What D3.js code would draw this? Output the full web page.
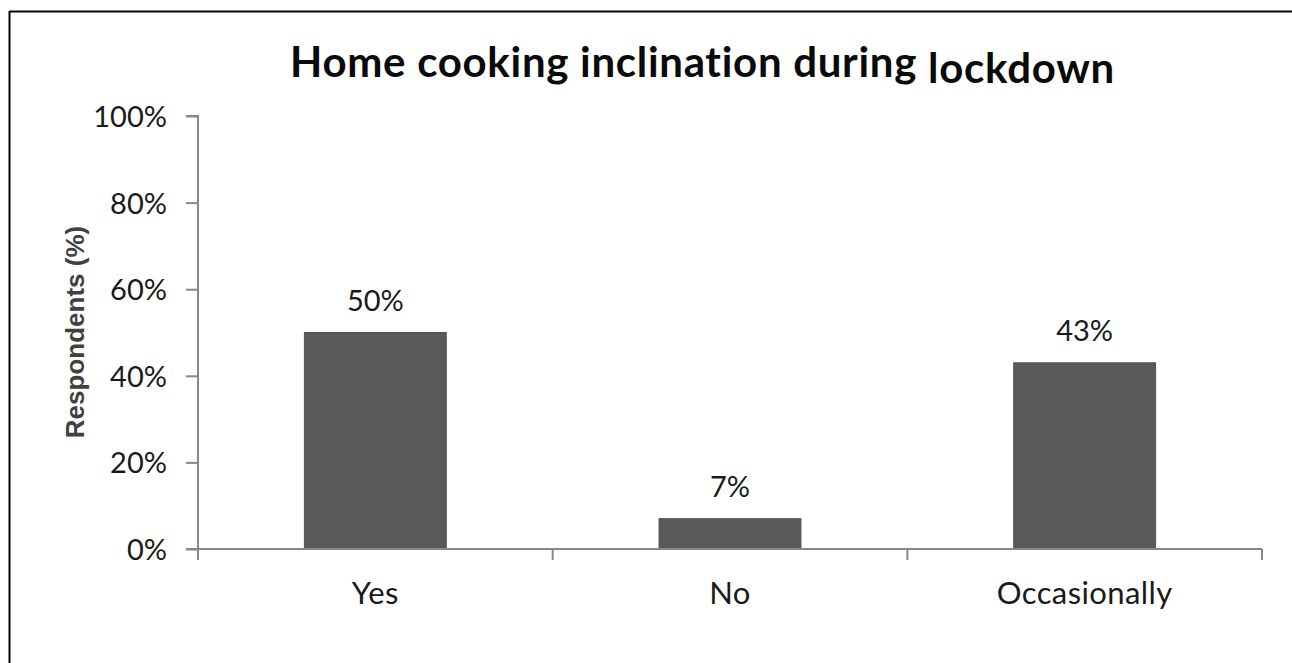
<!DOCTYPE html>
<html><head><meta charset="utf-8">
<script src="https://cdn.jsdelivr.net/npm/d3@7"></script>
<style>body{margin:0;background:#fff;}svg{display:block;}</style>
</head><body>
<svg id="c" width="1292" height="663"></svg>
<script>
const categories = ["Yes", "No", "Occasionally"];
const values = [50, 7, 43];
const valueLabels = ["50%", "7%", "43%"];
const yTicks = [0, 20, 40, 60, 80, 100];
const titleMain = "Home cooking inclination during";
const titleTail = "lockdown";
const yTitle = "Respondents (%)";

const svg = d3.select("#c");
const W = 1292, H = 663;
const m = {left: 198, right: 1262, top: 116, bottom: 549};

svg.append("rect").attr("x", 0).attr("y", 0).attr("width", W).attr("height", H).attr("fill", "#fff");
svg.append("line").attr("x1", 9.5).attr("x2", W).attr("y1", 11.5).attr("y2", 11.5).attr("stroke", "#000").attr("stroke-width", 2);
svg.append("line").attr("x1", 9.5).attr("x2", 9.5).attr("y1", 11).attr("y2", H).attr("stroke", "#000").attr("stroke-width", 2);

const x = d3.scaleBand().domain(categories).range([m.left, m.right]).paddingInner(0).paddingOuter(0);
const y = d3.scaleLinear().domain([0, 100]).range([m.bottom, m.top]);

const font = "Lato, 'Open Sans', sans-serif";
const axisColor = "#888";

const bw = x.bandwidth() * 0.4;
svg.append("g").selectAll("rect").data(values).join("rect")
  .attr("x", (d, i) => x(categories[i]) + (x.bandwidth() - bw) / 2)
  .attr("y", d => y(d))
  .attr("width", bw)
  .attr("height", d => y(0) - y(d))
  .attr("fill", "#595959")
  .attr("stroke", "#505050").attr("stroke-width", 1);

const yAxis = d3.axisLeft(y).tickValues(yTicks).tickSize(12).tickPadding(19).tickFormat(d => d + "%");
const gy = svg.append("g").attr("transform", `translate(${m.left},0)`).call(yAxis);
gy.select(".domain").attr("stroke", axisColor).attr("stroke-width", 2).attr("d", `M-12,${m.top}H0V${m.bottom}`);
gy.selectAll(".tick line").attr("stroke", axisColor).attr("stroke-width", 2);
gy.selectAll(".tick text").attr("fill", "#1a1a1a").attr("dy", "0.36em").style("font-family", font).style("font-size", "29px");

const gx = svg.append("g").attr("transform", `translate(0,${m.bottom})`);
gx.append("line").attr("x1", m.left - 12).attr("x2", m.right).attr("y1", 0).attr("y2", 0).attr("stroke", axisColor).attr("stroke-width", 2);
const bounds = [...categories.map(c => x(c)), m.right];
gx.selectAll(".bt").data(bounds).join("line").attr("class", "bt")
  .attr("x1", d => d).attr("x2", d => d).attr("y1", 0).attr("y2", 11)
  .attr("stroke", axisColor).attr("stroke-width", 2);
gx.selectAll(".cl").data(categories).join("text").attr("class", "cl")
  .attr("x", d => x(d) + x.bandwidth() / 2).attr("y", 55)
  .attr("text-anchor", "middle").attr("fill", "#1a1a1a")
  .style("font-family", font).style("font-size", "31px").style("letter-spacing", "0.4px").text(d => d);

svg.append("g").selectAll("text").data(values).join("text")
  .attr("x", (d, i) => x(categories[i]) + x.bandwidth() / 2)
  .attr("y", d => y(d) - 22)
  .attr("text-anchor", "middle").attr("fill", "#1a1a1a")
  .style("font-family", font).style("font-size", "29px")
  .text((d, i) => valueLabels[i]);

const t = svg.append("text").attr("x", 290).attr("y", 76.5).attr("fill", "#0a0a0a")
  .style("font-family", font).style("font-size", "42px").style("font-weight", "bold").style("letter-spacing", "0.7px");
t.append("tspan").text(titleMain + " ");
t.append("tspan").attr("dy", 6.5).text(titleTail);

svg.append("text").attr("transform", `translate(84,332) rotate(-90)`)
  .attr("text-anchor", "middle").attr("fill", "#404040")
  .style("font-family", "'Liberation Sans', Arial, sans-serif").style("font-size", "26px").style("font-weight", "bold")
  .text(yTitle);
</script>
</body></html>
